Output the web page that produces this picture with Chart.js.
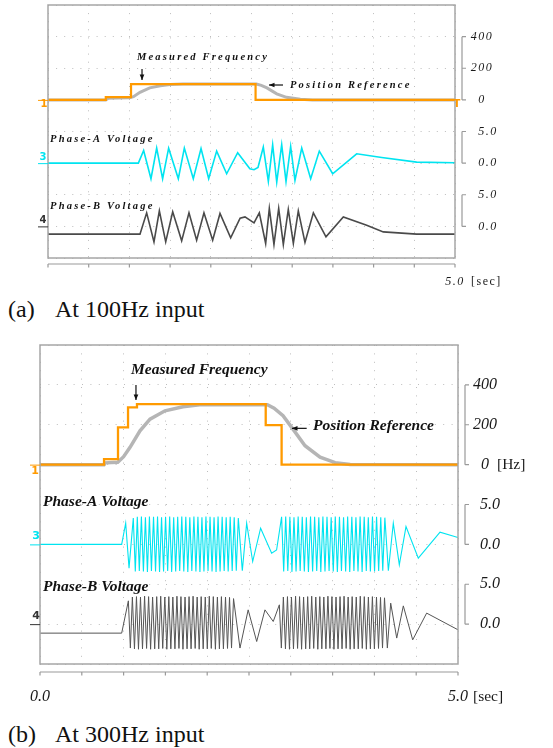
<!DOCTYPE html>
<html>
<head>
<meta charset="utf-8">
<script src="https://cdn.jsdelivr.net/npm/chart.js@4"></script>
<style>
  body { margin: 0; background: #fff; width: 553px; height: 748px; position: relative; overflow: hidden; font-family: "Liberation Serif", "Times New Roman", serif; }
  .panel { position: absolute; left: 0; }
  .cap { position: absolute; font-size: 24px; color: #111; line-height: 26px; white-space: pre; }
</style>
</head>
<body>
<div class="panel" style="top:0"><canvas id="scopeA" width="553" height="295"></canvas></div>
<div class="cap" style="left:8px;top:296px">(a)</div>
<div class="cap" style="left:55px;top:296px">At 100Hz input</div>
<div class="panel" style="top:330px"><canvas id="scopeB" width="553" height="390"></canvas></div>
<div class="cap" style="left:8px;top:721px">(b)</div>
<div class="cap" style="left:55px;top:721px">At 300Hz input</div>
<script>
// axis ticks shown on the right side / under the screen
const freqTickVals = [0, 200, 400];
const freqTickText = ['0', '200', '400'];
const voltTickVals = [0, 5];
const voltTickText = ['0.0', '5.0'];
const timeTickVals = [0, 5];
const timeTickText = ['0.0', '5.0'];

// ---- (a) 100 Hz input : [time s, value] ----
const measFreqA = [[0, 0], [0.71, 18], [1.02, 100], [2.55, 0], [5, 0]];
const posRefA = [[0, 0], [0.71, 0], [0.74, 10], [1.0, 13], [1.05, 20], [1.13, 48], [1.25, 76], [1.38, 89], [1.5, 97], [1.66, 100],
  [2.56, 100], [2.62, 92], [2.69, 76], [2.81, 38], [2.93, 16], [3.1, 4], [3.25, 0], [5, 0]];
const phaseAVoltA = [[0, 0], [1.110, 0], [1.175, 2.0], [1.265, -2.47], [1.335, 2.37], [1.408, -2.47], [1.482, 2.37], [1.601, -2.47],
  [1.675, 2.37], [1.785, -2.47], [1.880, 2.3], [1.974, -2.47], [2.072, 1.9], [2.195, -1.68], [2.330, 1.64], [2.48, -0.9],
  [2.531, -1.05], [2.58, -0.7], [2.645, 2.53], [2.707, -2.9], [2.760, 2.9], [2.810, -3.0], [2.871, 2.9], [2.924, -2.9],
  [2.981, 2.64], [3.034, -2.74], [3.117, 2.37], [3.227, -2.47], [3.333, 1.9], [3.497, -1.68], [3.792, 1.48], [4.1, 0.9],
  [4.529, 0.16], [5, 0.05]];
const phaseBVoltA = [[0, -1.23], [1.130, -1.23], [1.212, 2.14], [1.302, -2.45], [1.368, 2.45], [1.446, -2.45], [1.532, 2.3],
  [1.642, -2.29], [1.732, 2.14], [1.826, -2.18], [1.916, 2.14], [2.023, -2.18], [2.113, 2.04], [2.244, -1.82], [2.36, 1.3],
  [2.420, 1.5], [2.531, 0.55], [2.596, 2.14], [2.674, -2.7], [2.719, 2.83], [2.776, -2.86], [2.834, 2.83], [2.891, -2.86],
  [2.952, 2.67], [3.014, -2.7], [3.075, 2.45], [3.157, -2.55], [3.260, 2.14], [3.415, -1.66], [3.628, 1.5], [3.915, 0.19],
  [4.119, -0.87], [4.529, -1.23], [5, -1.23]];

// ---- (b) 300 Hz input ----
const measFreqB = [[0, 0], [0.766, 28], [0.933, 187], [1.053, 287], [1.16, 303], [2.70, 198], [2.89, 0], [5, 0]];
const posRefB = [[0, 0], [0.766, 0], [0.78, 9], [0.93, 12], [1.0, 40], [1.077, 87], [1.196, 170], [1.316, 228], [1.495, 270],
  [1.71, 290], [1.91, 300], [2.72, 300], [2.8, 283], [2.907, 245], [3.026, 178], [3.17, 95], [3.35, 37], [3.53, 10],
  [3.71, 1], [3.9, 0], [5, 0]];

const phaseAStartB = [[0, 0], [0.977, 0], [1.025, 2.65], [1.065, -2.98]];
const phaseABurst1B = [[1.116, 3.3], [1.140, -3.4], [1.164, 3.45], [1.188, -3.35], [1.213, 3.5], [1.237, -3.4], [1.261, 3.4],
  [1.285, -3.45], [1.309, 3.5], [1.333, -3.35], [1.358, 3.45], [1.382, -3.4], [1.406, 3.5], [1.430, -3.45], [1.454, 3.4],
  [1.478, -3.4], [1.502, 3.45], [1.527, -3.35], [1.551, 3.5], [1.575, -3.45], [1.599, 3.4], [1.623, -3.4], [1.647, 3.45],
  [1.671, -3.35], [1.696, 3.5], [1.720, -3.4], [1.744, 3.45], [1.768, -3.45], [1.792, 3.4], [1.816, -3.35], [1.841, 3.5],
  [1.865, -3.4], [1.889, 3.45], [1.913, -3.45], [1.937, 3.4], [1.961, -3.4], [1.985, 3.5], [2.010, -3.35], [2.034, 3.45],
  [2.058, -3.4], [2.082, 3.4], [2.106, -3.45], [2.130, 3.5], [2.154, -3.4], [2.179, 3.45], [2.203, -3.35], [2.227, 3.4],
  [2.251, -3.4], [2.275, 3.45], [2.299, -3.35], [2.323, 3.4], [2.348, -3.3], [2.372, 3.3]];
const phaseAMidB = [[2.420, -3.3], [2.472, 2.65], [2.544, -2.15], [2.639, 2.03], [2.771, -1.1], [2.83, -0.7]];
const phaseABurst2B = [[2.890, 3.45], [2.915, -3.4], [2.939, 3.5], [2.964, -3.35], [2.989, 3.45], [3.014, -3.45], [3.038, 3.4],
  [3.063, -3.4], [3.088, 3.5], [3.112, -3.35], [3.137, 3.45], [3.162, -3.4], [3.186, 3.4], [3.211, -3.45], [3.236, 3.5],
  [3.261, -3.4], [3.285, 3.45], [3.310, -3.35], [3.335, 3.4], [3.359, -3.45], [3.384, 3.5], [3.409, -3.4], [3.433, 3.45],
  [3.458, -3.35], [3.483, 3.4], [3.508, -3.4], [3.532, 3.5], [3.557, -3.45], [3.582, 3.45], [3.606, -3.35], [3.631, 3.4],
  [3.656, -3.4], [3.680, 3.5], [3.705, -3.45], [3.730, 3.45], [3.755, -3.35], [3.779, 3.4], [3.804, -3.4], [3.829, 3.5],
  [3.853, -3.45], [3.878, 3.45], [3.903, -3.35], [3.927, 3.4], [3.952, -3.4], [3.977, 3.5], [4.002, -3.4], [4.026, 3.45],
  [4.051, -3.35], [4.076, 3.4], [4.100, -3.3], [4.125, 3.35]];
const phaseAEndB = [[4.167, -3.3], [4.226, 2.65], [4.298, -2.57], [4.378, 2.23], [4.525, -1.73], [4.785, 1.53], [5, 0.85]];

const phaseBStartB = [[0, -1.13], [0.977, -1.13], [1.057, 2.92]];
const phaseBBurst1B = [[1.081, -3.0], [1.105, 3.4], [1.130, -3.1], [1.154, 3.45], [1.178, -3.15], [1.202, 3.4], [1.226, -3.1],
  [1.251, 3.5], [1.275, -3.05], [1.299, 3.45], [1.323, -3.15], [1.347, 3.4], [1.372, -3.1], [1.396, 3.45], [1.420, -3.1],
  [1.444, 3.5], [1.468, -3.05], [1.493, 3.4], [1.517, -3.15], [1.541, 3.45], [1.565, -3.1], [1.589, 3.4], [1.614, -3.1],
  [1.638, 3.5], [1.662, -3.05], [1.686, 3.45], [1.710, -3.15], [1.735, 3.4], [1.759, -3.1], [1.783, 3.45], [1.807, -3.1],
  [1.831, 3.5], [1.856, -3.05], [1.880, 3.4], [1.904, -3.15], [1.928, 3.45], [1.952, -3.1], [1.977, 3.4], [2.001, -3.1],
  [2.025, 3.5], [2.049, -3.05], [2.073, 3.45], [2.098, -3.15], [2.122, 3.4], [2.146, -3.1], [2.170, 3.45], [2.194, -3.1],
  [2.219, 3.4], [2.243, -3.05], [2.267, 3.35], [2.291, -3.0], [2.315, 3.2]];
const phaseBMidB = [[2.392, -3.0], [2.49, 1.79], [2.592, -2.18], [2.691, 1.79], [2.79, 0.33], [2.863, 2.42]];
const phaseBBurst2B = [[2.887, -3.0], [2.911, 3.4], [2.936, -3.1], [2.960, 3.45], [2.984, -3.15], [3.008, 3.4], [3.032, -3.1],
  [3.057, 3.5], [3.081, -3.05], [3.105, 3.45], [3.129, -3.15], [3.153, 3.4], [3.178, -3.1], [3.202, 3.45], [3.226, -3.1],
  [3.250, 3.5], [3.274, -3.05], [3.299, 3.4], [3.323, -3.15], [3.347, 3.45], [3.371, -3.1], [3.395, 3.4], [3.420, -3.1],
  [3.444, 3.5], [3.468, -3.05], [3.492, 3.45], [3.516, -3.15], [3.541, 3.4], [3.565, -3.1], [3.589, 3.45], [3.613, -3.1],
  [3.637, 3.5], [3.662, -3.05], [3.686, 3.4], [3.710, -3.15], [3.734, 3.45], [3.758, -3.1], [3.783, 3.4], [3.807, -3.1],
  [3.831, 3.5], [3.855, -3.05], [3.879, 3.45], [3.904, -3.15], [3.928, 3.4], [3.952, -3.1], [3.976, 3.45], [4.000, -3.1],
  [4.025, 3.4], [4.049, -3.05], [4.073, 3.35], [4.097, -3.0], [4.121, 3.3]];
const phaseBEndB = [[4.155, -3.0], [4.195, 2.63], [4.267, -1.75], [4.346, 2.29], [4.458, -1.97], [4.625, 1.38], [5, -0.71]];

const phaseAVoltB = [...phaseAStartB, ...phaseABurst1B, ...phaseAMidB, ...phaseABurst2B, ...phaseAEndB];
const phaseBVoltB = [...phaseBStartB, ...phaseBBurst1B, ...phaseBMidB, ...phaseBBurst2B, ...phaseBEndB];

// draws the scope frame, right-hand brackets, labels and arrows
const scopeDeco = {
  id: 'scopeDeco',
  afterDraw(chart, args, o) {
    const { ctx, chartArea: a } = chart;
    const s = chart.scales;
    ctx.save();

    ctx.strokeStyle = '#a6a6a6';
    ctx.lineWidth = 1.5;
    ctx.strokeRect(a.left, a.top, a.right - a.left, a.bottom - a.top);

    // time bracket
    const by = a.bottom + o.gap;
    ctx.lineWidth = 1.2;
    ctx.strokeStyle = '#9a9a9a';
    ctx.beginPath();
    ctx.moveTo(a.left, by);
    ctx.lineTo(a.right, by);
    s.x.ticks.forEach(tk => {
      const px = s.x.getPixelForValue(tk.value);
      ctx.moveTo(px, by);
      ctx.lineTo(px, by + 3.5);
    });
    ctx.stroke();

    ctx.fillStyle = '#1a1a1a';
    ctx.textBaseline = 'middle';
    ctx.textAlign = 'center';
    ctx.font = o.tickFont;
    ctx.letterSpacing = o.tickSpacing;
    timeTickVals.forEach((v, i) => {
      if (v === 0 && !o.showZero) return;
      ctx.fillText(timeTickText[i], s.x.getPixelForValue(v), a.bottom + o.timeDy);
    });
    ctx.textAlign = 'left';
    ctx.font = o.unitFont;
    ctx.fillText('[sec]', s.x.getPixelForValue(5) + o.secDx, a.bottom + o.timeDy);

    // channel brackets on the right
    const bx = a.right + 7;
    [[s.yF, freqTickVals, freqTickText, o.freqDx], [s.yA, voltTickVals, voltTickText, o.voltDx],
     [s.yB, voltTickVals, voltTickText, o.voltDx]].forEach(([sc, vals, txt, dx]) => {
      const p = vals.map(v => sc.getPixelForValue(v));
      ctx.beginPath();
      ctx.moveTo(bx, Math.min(...p));
      ctx.lineTo(bx, Math.max(...p));
      p.forEach(py => { ctx.moveTo(bx, py); ctx.lineTo(bx + 4, py); });
      ctx.stroke();
      ctx.font = o.tickFont;
      ctx.textAlign = 'center';
      p.forEach((py, i) => ctx.fillText(txt[i], a.right + dx, py));
    });
    if (o.hzDx) {
      ctx.font = o.unitFont;
      ctx.textAlign = 'left';
      ctx.fillText('[Hz]', a.right + o.hzDx, s.yF.getPixelForValue(0));
    }

    // trace names
    ctx.font = o.noteFont;
    ctx.letterSpacing = o.noteSpacing;
    ctx.textAlign = 'left';
    ctx.fillStyle = '#111';
    o.notes.forEach(n => ctx.fillText(n.text, s.x.getPixelForValue(n.t), s[n.axis].getPixelForValue(n.v)));
    ctx.letterSpacing = '0px';

    // arrows
    ctx.strokeStyle = '#111';
    ctx.lineWidth = 1.2;
    o.arrows.forEach(r => {
      const x1 = s.x.getPixelForValue(r.t1), y1 = s.yF.getPixelForValue(r.v1);
      const x2 = s.x.getPixelForValue(r.t2), y2 = s.yF.getPixelForValue(r.v2);
      const ang = Math.atan2(y2 - y1, x2 - x1);
      ctx.beginPath();
      ctx.moveTo(x1, y1);
      ctx.lineTo(x2, y2);
      ctx.stroke();
      ctx.beginPath();
      ctx.moveTo(x2, y2);
      ctx.lineTo(x2 - 6 * Math.cos(ang - 0.4), y2 - 6 * Math.sin(ang - 0.4));
      ctx.lineTo(x2 - 6 * Math.cos(ang + 0.4), y2 - 6 * Math.sin(ang + 0.4));
      ctx.closePath();
      ctx.fill();
    });

    // channel ground markers
    ctx.font = o.markFont;
    o.marks.forEach(m => {
      const py = s[m.axis].getPixelForValue(0);
      const px = (m.right ? a.right : a.left) + m.dx;
      ctx.fillStyle = m.color;
      ctx.strokeStyle = m.color;
      ctx.textAlign = 'center';
      ctx.fillText(m.text, px, py + m.dy);
      if (!m.right) {
        ctx.lineWidth = 1;
        ctx.beginPath();
        ctx.moveTo(a.left - 10, py + 0.5);
        ctx.lineTo(a.left, py + 0.5);
        ctx.stroke();
      }
    });
    ctx.restore();
  }
};

function buildScope(id, meas, ref, phA, phB, deco) {
  const dotted = { color: '#bdbdbd', lineWidth: 1, drawTicks: false };
  return new Chart(document.getElementById(id), {
    type: 'line',
    data: {
      datasets: [
        { data: meas, borderColor: '#ff9a00', borderWidth: deco.wMeas, stepped: 'before', yAxisID: 'yF', order: 0 },
        { data: ref, borderColor: '#b5b5b5', borderWidth: deco.wRef, yAxisID: 'yF', order: 1 },
        { data: phA, borderColor: 'rgb(0,228,240)', borderWidth: deco.wA, yAxisID: 'yA', order: 2 },
        { data: phB, borderColor: deco.colB, borderWidth: deco.wB, yAxisID: 'yB', order: 3 }
      ]
    },
    options: {
      responsive: false,
      animation: false,
      elements: { point: { radius: 0 }, line: { tension: 0 } },
      layout: { padding: deco.pad },
      plugins: { legend: { display: false }, tooltip: { enabled: false }, scopeDeco: deco },
      scales: {
        x: { type: 'linear', min: 0, max: 5, ticks: { display: false, stepSize: 0.5 },
             grid: dotted, border: { display: false, dash: [1, deco.dot] } },
        yA: { type: 'linear', position: 'left', min: -15, max: 25, ticks: { display: false, stepSize: 5 },
              grid: dotted, border: { display: false, dash: [1, deco.dot] } },
        yF: { type: 'linear', display: false, min: -1000, max: 600 },
        yB: { type: 'linear', display: false, min: -5, max: 35 }
      }
    },
    plugins: [scopeDeco]
  });
}

buildScope('scopeA', measFreqA, posRefA, phaseAVoltA, phaseBVoltA, {
  pad: { left: 48, top: 5, right: 98, bottom: 37 },
  dot: 7.1, wMeas: 2.2, wRef: 3, wA: 1.6, wB: 1.6, colB: '#4a4a4a',
  gap: 6, timeDy: 24, secDx: 16, showZero: false,
  tickFont: 'italic 12px "Liberation Serif"', tickSpacing: '1.5px',
  unitFont: '12px "Liberation Serif"',
  freqDx: 27, voltDx: 33, hzDx: 0,
  noteFont: 'italic bold 10.5px "Liberation Serif"', noteSpacing: '2.2px',
  notes: [
    { text: 'Measured Frequency', t: 1.093, axis: 'yF', v: 271 },
    { text: 'Position Reference', t: 2.973, axis: 'yF', v: 94 },
    { text: 'Phase-A Voltage', t: 0.025, axis: 'yA', v: 3.75 },
    { text: 'Phase-B Voltage', t: 0.025, axis: 'yB', v: 3.2 }
  ],
  arrows: [
    { t1: 1.155, v1: 195, t2: 1.155, v2: 125 },
    { t1: 2.887, v1: 94, t2: 2.715, v2: 94 }
  ],
  markFont: 'bold 10px "DejaVu Sans"',
  marks: [
    { text: '1', axis: 'yF', dx: -4, dy: 5, color: '#ff9a00' },
    { text: 'T', axis: 'yF', dx: 2, dy: 5, color: '#ff9a00', right: true },
    { text: '3', axis: 'yA', dx: -5, dy: -6, color: 'rgb(0,228,240)' },
    { text: '4', axis: 'yB', dx: -5, dy: -6, color: '#333' }
  ]
});

buildScope('scopeB', measFreqB, posRefB, phaseAVoltB, phaseBVoltB, {
  pad: { left: 40, top: 15, right: 95, bottom: 56 },
  dot: 7.4, wMeas: 2.3, wRef: 3.5, wA: 1.1, wB: 1, colB: '#555',
  gap: 8, timeDy: 33, secDx: 15, showZero: true,
  tickFont: 'italic 16px "Liberation Serif"', tickSpacing: '0px',
  unitFont: '15.5px "Liberation Serif"',
  freqDx: 27, voltDx: 32, hzDx: 39,
  noteFont: 'italic bold 15.5px "Liberation Serif"', noteSpacing: '0px',
  notes: [
    { text: 'Measured Frequency', t: 1.089, axis: 'yF', v: 475 },
    { text: 'Position Reference', t: 3.266, axis: 'yF', v: 194 },
    { text: 'Phase-A Voltage', t: 0.036, axis: 'yA', v: 5.36 },
    { text: 'Phase-B Voltage', t: 0.036, axis: 'yB', v: 4.71 }
  ],
  arrows: [
    { t1: 1.148, v1: 400, t2: 1.148, v2: 324 },
    { t1: 3.19, v1: 182, t2: 3.014, v2: 182 }
  ],
  markFont: 'bold 11px "DejaVu Sans"',
  marks: [
    { text: '1', axis: 'yF', dx: -5, dy: 7, color: '#ff9a00' },
    { text: '3', axis: 'yA', dx: -4, dy: -8, color: 'rgb(0,228,240)' },
    { text: '4', axis: 'yB', dx: -4, dy: -8, color: '#333' }
  ]
});
</script>
</body>
</html>
